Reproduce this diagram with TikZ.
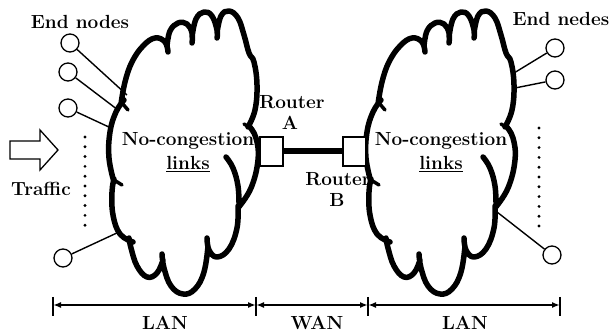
\documentclass[tikz,border=0pt]{standalone}
\usepackage{fontspec}
\usetikzlibrary{arrows.meta}
\tikzset{
  cloudline/.style={line width=5.5pt,line cap=round,line join=round},
  spur/.style={line width=3.5pt,line cap=round},
  lbl/.style={font=\fontsize{19}{23}\selectfont\bfseries,inner sep=0pt,anchor=base},
  endnode/.style={circle,draw,line width=1.3pt,minimum size=18pt,inner sep=0pt},
  wire/.style={line width=1.4pt},
  router/.style={draw,line width=1.2pt,fill=white,minimum width=23pt,minimum height=29pt,inner sep=0pt},
  dotline/.style={line width=3.2pt,line cap=round,dash pattern=on 0pt off 9.8pt},
  dimline/.style={line width=1.8pt,{Latex[length=8pt,width=6pt]}-{Latex[length=8pt,width=6pt]}},
  tickline/.style={line width=1.4pt},
  trafficarrow/.style={line width=1.3pt,line join=miter},
  cloudpic/.pic={
    \draw[cloudline]
      plot[smooth,tension=0.7] coordinates {(238,206) (237,228) (229,249) (217,257) (209,250) (207,238)}
      plot[smooth,tension=0.7] coordinates {(208,246) (204,272) (195,289) (183,294) (171,286) (164,268) (162,254)}
      plot[smooth,tension=0.7] coordinates {(163,260) (157,273) (147,277) (137,266) (131,248) (129,238)}
      plot[smooth,tension=0.7] coordinates {(133,242) (120,234) (113,215) (112,192) (114,179)}
      plot[smooth,tension=0.7] coordinates {(114,182) (109,158) (110,132) (116,112) (124,100)}
      plot[smooth,tension=0.7] coordinates {(121,104) (125,82) (132,62) (143,46) (155,38) (165,42) (168,52)}
      plot[smooth,tension=0.7] coordinates {(167,46) (170,31) (178,23) (187,24) (192,33) (192,43)}
      plot[smooth,tension=0.7] coordinates {(192,37) (196,19) (204,12) (212,16) (217,30) (217,38)}
      plot[smooth,tension=0.7] coordinates {(217,33) (221,16) (229,11) (238,18) (244,35) (249,53) (254,62) (257,85) (255,110) (248,127)}
      plot[smooth,tension=0.7] coordinates {(249,126) (256,138) (258,160) (251,188) (238,208)}
      plot[smooth,tension=0.7] coordinates {(226,157) (233,168) (238,186) (239,206)};
    \draw[spur] (114,180) -- (122,185);
    \draw[spur] (122,103) -- (128,110);
    \draw[spur] (249,127) -- (244,124);
  }
}
\begin{document}
\begin{tikzpicture}[x=1pt,y=-1pt]
\useasboundingbox (0,0) rectangle (610,336);

% clouds
\pic at (0,0) {cloudpic};
\pic at (257,0) {cloudpic};

% cloud texts
\node[lbl] (nc1) at (188,146) {No-congestion};
\node[lbl] (lk1) at (188,170) {\underline{links}};
\node[lbl] (nc2) at (441,146) {No-congestion};
\node[lbl] (lk2) at (441,170) {\underline{links}};

% routers
\node[router] (rA) at (271.5,151.5) {};
\node[router] (rB) at (354.5,151.5) {};
\draw[line width=6pt] (rA.east) -- (rB.west);
\node[lbl] (rAt) at (292,109) {Router};
\node[lbl] (rAl) at (290,130) {A};
\node[lbl] (rBt) at (338,186) {Router};
\node[lbl] (rBl) at (337,207) {B};

% end nodes left
\node[lbl] (enl) at (80,29) {End nodes};
\node[endnode] (c1) at (70,43) {};
\node[endnode] (c2) at (68,72) {};
\node[endnode] (c3) at (68,108) {};
\node[endnode] (c4) at (63,258) {};
\coordinate (a1) at (127,95);
\coordinate (a2) at (118,110);
\coordinate (a3) at (111,128);
\coordinate (a4) at (119,232);
\draw[wire] (c1) -- (a1);
\draw[wire] (c2) -- (a2);
\draw[wire] (c3) -- (a3);
\draw[wire] (c4) -- (a4);
\coordinate (dl1) at (85,137);
\coordinate (dl2) at (85,234);
\draw[dotline] (dl1) -- (dl2);

% end nodes right
\node[lbl] (enr) at (561,26) {End nedes};
\node[endnode] (r1) at (555,48) {};
\node[endnode] (r2) at (555,80) {};
\node[endnode] (r3) at (552,255) {};
\coordinate (b1) at (514,73);
\coordinate (b2) at (515,88);
\coordinate (b3) at (497,212);
\draw[wire] (r1) -- (b1);
\draw[wire] (r2) -- (b2);
\draw[wire] (r3) -- (b3);
\coordinate (dr1) at (539,128);
\coordinate (dr2) at (539,226);
\draw[dotline] (dr1) -- (dr2);

% traffic
\draw[trafficarrow] (10,141) -- (40,141) -- (40,130) -- (58,150) -- (40,170) -- (40,159) -- (10,159) -- cycle;
\node[lbl] (tr) at (41,196) {Traffic};

% dimension line
\coordinate (d0) at (53,305);
\coordinate (d1) at (256,305);
\coordinate (d2) at (368,305);
\coordinate (d3) at (560,305);
\draw[dimline] (d0) -- (d1);
\draw[dimline] (d1) -- (d2);
\draw[dimline] (d2) -- (d3);
\foreach \p in {d0,d1,d2,d3}
  \draw[tickline] ([yshift=8pt]\p) -- ([yshift=-11pt]\p);
\node[lbl] (lan1) at (165,330) {LAN};
\node[lbl] (wan) at (317,330) {WAN};
\node[lbl] (lan2) at (465,330) {LAN};
\end{tikzpicture}
\end{document}
